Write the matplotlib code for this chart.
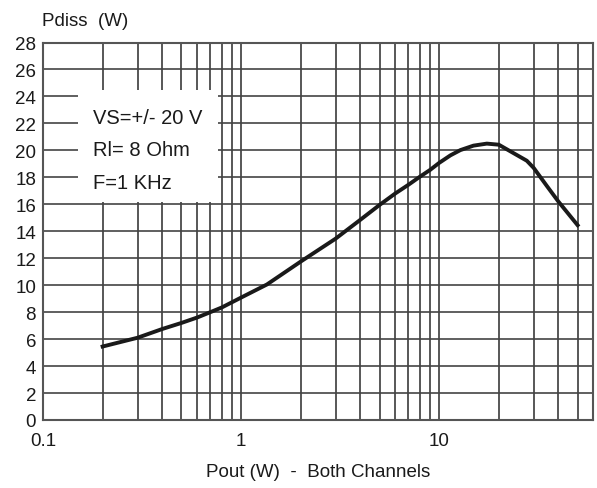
import matplotlib
matplotlib.use("Agg")
import matplotlib.pyplot as plt
from matplotlib.patches import Rectangle
from matplotlib.ticker import FixedLocator, NullFormatter

# Pdiss vs Pout, both channels
pout = [0.2, 0.3, 0.4, 0.5, 0.6, 0.7, 0.8, 1.0, 1.35, 2.0, 3.0, 4.0, 5.0, 6.0, 7.0, 8.0, 9.0,
        10.0, 11.4, 12.8, 14.9, 17.4, 20.0, 23.7, 27.7, 30.0, 35.0, 40.0, 50.0]
pdiss = [5.45, 6.1, 6.75, 7.2, 7.6, 8.0, 8.35, 9.08, 10.05, 11.75, 13.45, 14.85, 15.95, 16.8,
         17.45, 18.05, 18.55, 19.07, 19.63, 20.02, 20.35, 20.5, 20.42, 19.8, 19.23, 18.7,
         17.35, 16.2, 14.45]

x_major = [0.1, 1, 10]
x_major_labels = ["0.1", "1", "10"]
x_minor = [0.2, 0.3, 0.4, 0.5, 0.6, 0.7, 0.8, 0.9, 2, 3, 4, 5, 6, 7, 8, 9, 20, 30, 40, 50]
y_ticks = list(range(0, 29, 2))

notes = ["VS=+/- 20 V", "Rl= 8 Ohm", "F=1 KHz"]
note_y = [22.45, 20.07, 17.6]

plt.rcParams['font.family'] = ['Liberation Sans', 'DejaVu Sans']

fig = plt.figure(figsize=(5.97, 4.89), dpi=100)
ax = fig.add_axes([43 / 597, 1 - 421 / 489, (593.3 - 43) / 597, (421 - 43.5) / 489])

ax.set_xscale('log')
ax.set_xlim(0.1, 60)
ax.set_ylim(0, 28)

ax.xaxis.set_major_locator(FixedLocator(x_major))
ax.xaxis.set_minor_locator(FixedLocator(x_minor))
ax.xaxis.set_minor_formatter(NullFormatter())
ax.set_xticks(x_major, x_major_labels)
ax.set_yticks(y_ticks)

ax.tick_params(axis='both', which='both', length=0, labelsize=13.5, colors='#1a1a1a')
ax.tick_params(axis='x', pad=9)
ax.tick_params(axis='y', pad=5)

ax.set_axisbelow(True)
ax.grid(True, which='both', axis='x', color='#2a2a2a', linewidth=1.1)
ax.grid(True, which='major', axis='y', color='#444444', linewidth=1.2)

for s in ax.spines.values():
    s.set_color('#555555')
    s.set_linewidth(1.5)

# white label box that blanks the grid
ax.add_patch(Rectangle((0.15, 16.15), 0.766 - 0.15, 24.5 - 16.15, facecolor='white',
                       edgecolor='none', zorder=1))
for txt, yy in zip(notes, note_y):
    ax.text(0.178, yy, txt, fontsize=14.5, va='center', ha='left', color='#1a1a1a', zorder=3)

ax.plot(pout, pdiss, color='#1a1a1a', linewidth=2.8, solid_joinstyle='round', zorder=2)

fig.text(41.7 / 597, 1 - 21.7 / 489, "Pdiss  (W)", fontsize=13.5, va='center', ha='left',
         color='#1a1a1a')
fig.text(318 / 597, 1 - 473 / 489, "Pout (W)  -  Both Channels", fontsize=13.5, va='center',
         ha='center', color='#1a1a1a')

fig.savefig("out.png", dpi=100)
